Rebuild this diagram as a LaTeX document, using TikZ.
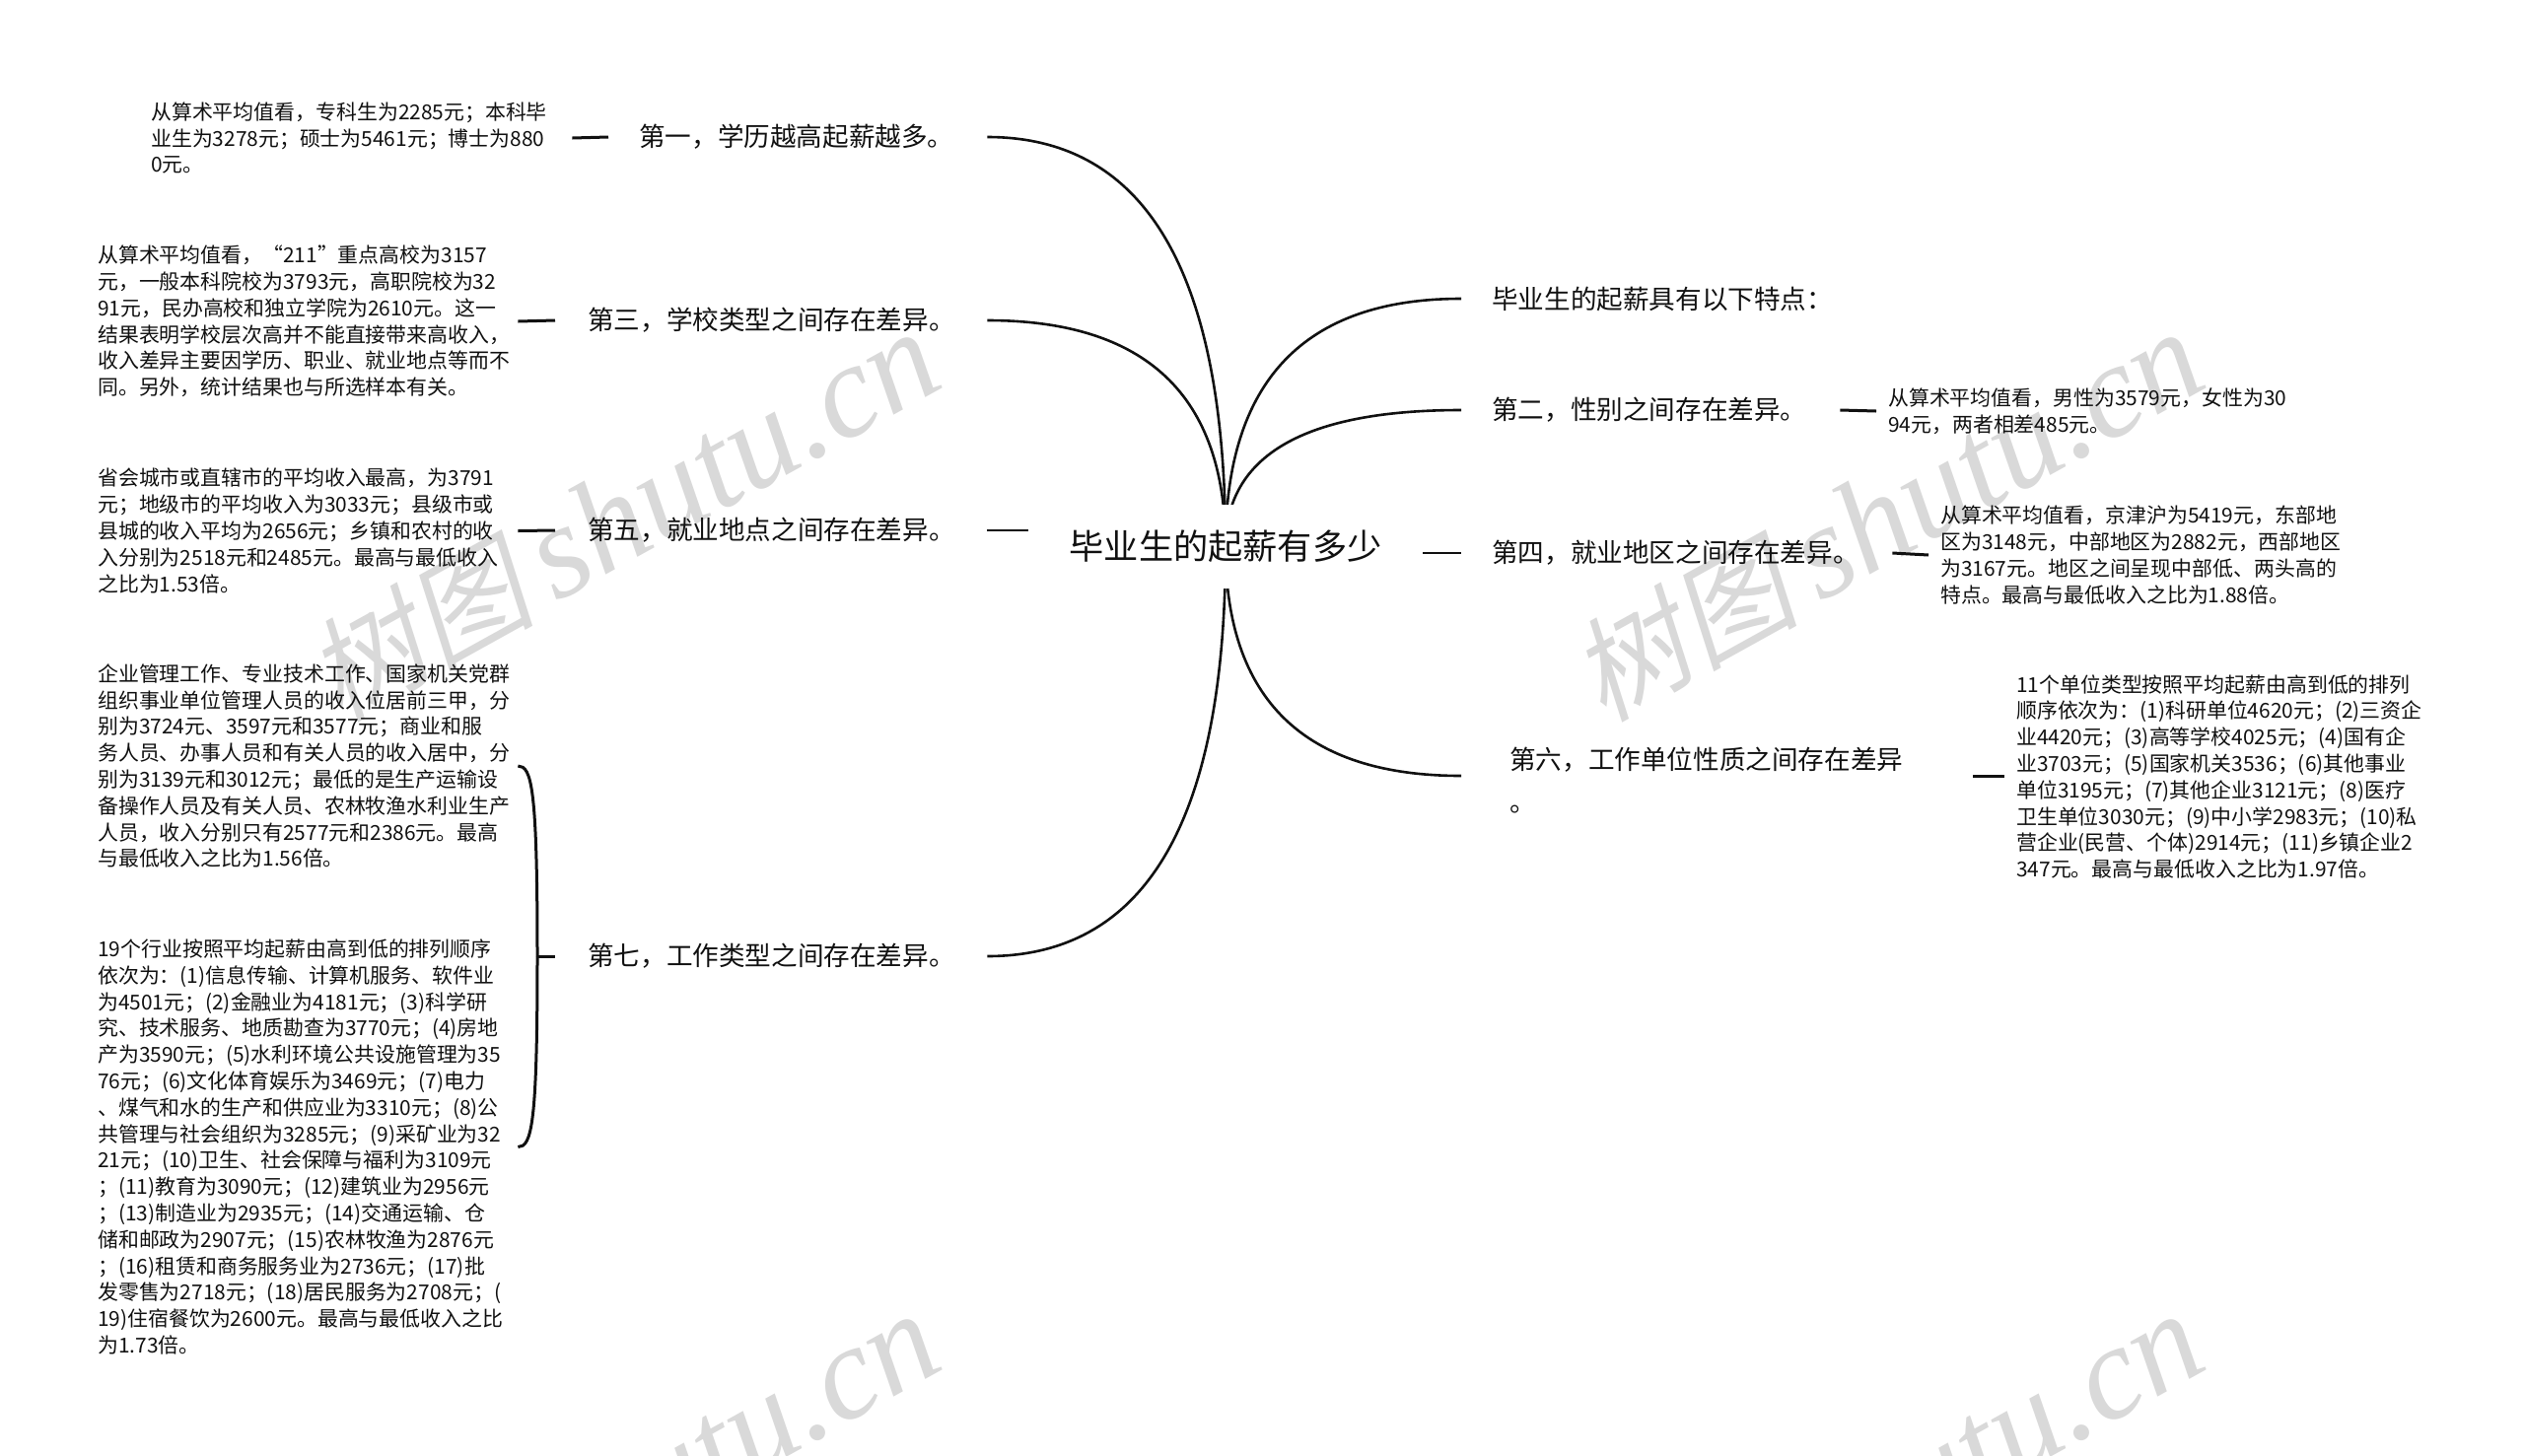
\documentclass[tikz,border=0pt]{standalone}
\usepackage{fontspec}
\usetikzlibrary{backgrounds,calc}
\setmainfont{Noto Sans CJK SC}
\newfontfamily\wmcjk[FakeSlant=0.2]{Noto Sans CJK SC}
\newfontfamily\wmlat{Liberation Serif}
\definecolor{ink}{HTML}{111111}
\definecolor{wmgray}{HTML}{D9D9D9}
\tikzset{
  every node/.style={text=ink},
  roottxt/.style={font=\fontsize{35.2}{44}\selectfont, fill=white, inner sep=0pt, minimum width=400pt, minimum height=85pt},
  lab/.style n args={2}{font=\fontsize{26.6}{43}\selectfont, anchor=west, align=left, inner ysep=0pt, inner xsep=#1, text width=#2},
  det/.style n args={2}{font=\fontsize{20.9}{26.8}\selectfont, anchor=west, align=left, inner ysep=0pt, inner xsep=#1, text width=#2},
  wm/.style={text=wmgray, rotate=29, inner sep=0pt},
  branch/.style={draw=ink, line width=2.6pt},
  tick/.style={draw=ink, line width=3pt},
  rootick/.style={draw=ink, line width=2.4pt},
}
\newcommand{\wmtext}{{\wmcjk\fontsize{115}{115}\selectfont 树图}\hspace{22pt}{\wmlat\itshape\fontsize{135}{135}\selectfont shutu.cn}}
% quadratic curve from the root's centre, leaving vertically and arriving horizontally
\newcommand{\rootcurve}[1]{\draw[branch] (root.center) .. controls ($(root.center)!0.667!(root.center |- #1)$) and ($(#1)!0.667!(root.center |- #1)$) .. (#1);}
\begin{document}
\begin{tikzpicture}[x=1pt,y=-1pt]
\useasboundingbox (0,0) rectangle (2560,1476);

\node[roottxt] (root) at (1243,554.5) {毕业生的起薪有多少};

% left branch labels
\node[lab={31pt}{322pt}] (lab1) at (617,139) {第一，学历越高起薪越多。};
\node[lab={33pt}{372pt}] (lab3) at (563,325) {第三，学校类型之间存在差异。};
\node[lab={33pt}{372pt}] (lab5) at (563,538) {第五，就业地点之间存在差异。};
\node[lab={33pt}{372pt}] (lab7) at (563,970) {第七，工作类型之间存在差异。};

% right branch labels
\node[lab={31pt}{400pt}] (lab0) at (1482,303) {毕业生的起薪具有以下特点：};
\node[lab={31pt}{322pt}] (lab2) at (1482,416) {第二，性别之间存在差异。};
\node[lab={31pt}{375pt}] (lab4) at (1482,561) {第四，就业地区之间存在差异。};
\node[lab={49pt}{421pt}] (lab6) at (1482,791.5) {第六，工作单位性质之间存在差异\\。};
\coordinate (e6) at ([yshift=4.5pt]lab6.east);
\coordinate (w6) at ([yshift=4.5pt]lab6.west);

% detail texts, left
\node[det={0pt}{427pt}] (d1) at (153,140) {从算术平均值看，专科生为2285元；本科毕\\业生为3278元；硕士为5461元；博士为880\\0元。};
\node[det={0pt}{426pt}] (d3) at (99,326) {从算术平均值看，“211”重点高校为3157\\元，一般本科院校为3793元，高职院校为32\\91元，民办高校和独立学院为2610元。这一\\结果表明学校层次高并不能直接带来高收入，\\收入差异主要因学历、职业、就业地点等而不\\同。另外，统计结果也与所选样本有关。};
\node[det={0pt}{426pt}] (d5) at (99,538.5) {省会城市或直辖市的平均收入最高，为3791\\元；地级市的平均收入为3033元；县级市或\\县城的收入平均为2656元；乡镇和农村的收\\入分别为2518元和2485元。最高与最低收入\\之比为1.53倍。};
\node[det={0pt}{426pt}] (d7a) at (99,777) {企业管理工作、专业技术工作、国家机关党群\\组织事业单位管理人员的收入位居前三甲，分\\别为3724元、3597元和3577元；商业和服\\务人员、办事人员和有关人员的收入居中，分\\别为3139元和3012元；最低的是生产运输设\\备操作人员及有关人员、农林牧渔水利业生产\\人员，收入分别只有2577元和2386元。最高\\与最低收入之比为1.56倍。};
\node[det={0pt}{426pt}] (d7b) at (99,1163.5) {19个行业按照平均起薪由高到低的排列顺序\\依次为：(1)信息传输、计算机服务、软件业\\为4501元；(2)金融业为4181元；(3)科学研\\究、技术服务、地质勘查为3770元；(4)房地\\产为3590元；(5)水利环境公共设施管理为35\\76元；(6)文化体育娱乐为3469元；(7)电力\\、煤气和水的生产和供应业为3310元；(8)公\\共管理与社会组织为3285元；(9)采矿业为32\\21元；(10)卫生、社会保障与福利为3109元\\；(11)教育为3090元；(12)建筑业为2956元\\；(13)制造业为2935元；(14)交通运输、仓\\储和邮政为2907元；(15)农林牧渔为2876元\\；(16)租赁和商务服务业为2736元；(17)批\\发零售为2718元；(18)居民服务为2708元；(\\19)住宿餐饮为2600元。最高与最低收入之比\\为1.73倍。};

% detail texts, right
\node[det={12pt}{440pt}] (d2) at (1903,417) {从算术平均值看，男性为3579元，女性为30\\94元，两者相差485元。};
\node[det={12pt}{440pt}] (d4) at (1956,563) {从算术平均值看，京津沪为5419元，东部地\\区为3148元，中部地区为2882元，西部地区\\为3167元。地区之间呈现中部低、两头高的\\特点。最高与最低收入之比为1.88倍。};
\node[det={12pt}{440pt}] (d6) at (2033,788) {11个单位类型按照平均起薪由高到低的排列\\顺序依次为：(1)科研单位4620元；(2)三资企\\业4420元；(3)高等学校4025元；(4)国有企\\业3703元；(5)国家机关3536；(6)其他事业\\单位3195元；(7)其他企业3121元；(8)医疗\\卫生单位3030元；(9)中小学2983元；(10)私\\营企业(民营、个体)2914元；(11)乡镇企业2\\347元。最高与最低收入之比为1.97倍。};

\begin{scope}[on background layer]
\fill[white] (0,0) rectangle (2560,1476);
\begin{scope}
\clip (0,0) rectangle (2560,1476);
\node[wm] (wm1) at (632,524) {\wmtext};
\node[wm] (wm2) at (1914,524) {\wmtext};
\node[wm] (wm3) at (632,1520) {\wmtext};
\node[wm] (wm4) at (1914,1520) {\wmtext};
\end{scope}
\rootcurve{lab1.east}
\rootcurve{lab3.east}
\rootcurve{lab7.east}
\rootcurve{lab0.west}
\rootcurve{lab2.west}
\rootcurve{w6}
\end{scope}

\draw[rootick] (root.west |- lab5.east) -- (lab5.east);
\draw[rootick] (root.east |- lab4.west) -- (lab4.west);

\draw[tick] (d1.east) -- (lab1.west);
\draw[tick] (d3.east) -- (lab3.west);
\draw[tick] (d5.east) -- (lab5.west);
\draw[tick] (lab2.east) -- (d2.west);
\draw[tick] (lab4.east) -- (d4.west);
\draw[tick] (e6) -- (e6 -| d6.west);

\coordinate (jn) at ($(lab7.west)+(-18,0)$);
\draw[tick] (jn) -- (lab7.west);
\draw[tick] (jn) .. controls ($(jn)+(0,-170)$) and ($(d7a.east)+(14,0)$) .. (d7a.east);
\draw[tick] (jn) .. controls ($(jn)+(0,170)$) and ($(d7b.east)+(14,0)$) .. (d7b.east);
\end{tikzpicture}
\end{document}
